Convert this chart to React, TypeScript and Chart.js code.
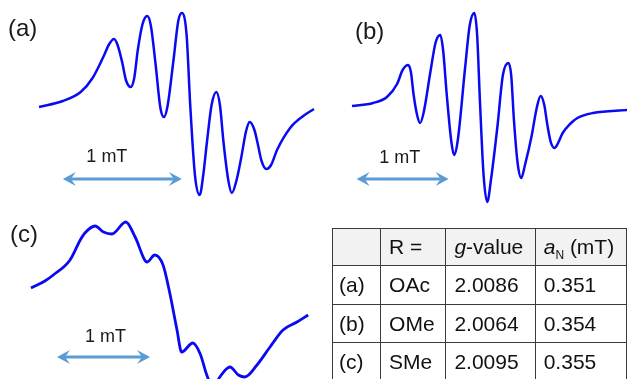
import { useEffect, useRef } from 'react';
import { Chart, registerables } from 'chart.js';

Chart.register(...registerables);

// ---- Spectrum (a), R = OAc : field offset (mT) and derivative signal (a.u.)
const FIELD_A = [0.0, 0.2, 0.35, 0.45, 0.54, 0.59, 0.63, 0.66, 0.7, 0.73, 0.77, 0.8, 0.83, 0.87, 0.91, 0.94, 0.98, 1.02, 1.05, 1.08, 1.13, 1.17, 1.2, 1.24, 1.27, 1.31, 1.35, 1.38, 1.41, 1.45, 1.49, 1.52, 1.55, 1.59, 1.62, 1.66, 1.7, 1.74, 1.77, 1.81, 1.84, 1.87, 1.91, 1.95, 2.0, 2.11, 2.22, 2.31];
const SIGNAL_A = [0, 6, 15, 29, 50, 63, 68, 62, 44, 27, 20, 29, 57, 83, 91, 81, 42, -1, -10, 1, 47, 86, 94, 72, 3, -68, -88, -68, -36, 2, 15, 2, -35, -73, -86, -73, -50, -24, -15, -23, -38, -54, -62, -58, -43, -21, -9, -2];

// ---- Spectrum (b), R = OMe
const FIELD_B = [0.0, 0.23, 0.38, 0.49, 0.55, 0.61, 0.64, 0.67, 0.71, 0.74, 0.78, 0.85, 0.91, 0.96, 0.99, 1.03, 1.08, 1.11, 1.15, 1.23, 1.28, 1.33, 1.36, 1.39, 1.43, 1.47, 1.51, 1.58, 1.64, 1.7, 1.73, 1.76, 1.8, 1.84, 1.88, 1.95, 2.01, 2.05, 2.09, 2.12, 2.16, 2.2, 2.24, 2.29, 2.37, 2.45, 2.62, 2.99];
const SIGNAL_B = [0, 3, 9, 22, 36, 41, 34, 11, -10, -17, -6, 33, 64, 71, 56, 11, -36, -49, -34, 39, 81, 93, 71, 6, -69, -96, -74, -21, 31, 43, 31, -14, -57, -72, -59, -31, -1, 10, 1, -17, -36, -42, -37, -27, -18, -12, -7, -4];

// ---- Spectrum (c), R = SMe
const FIELD_C = [0.0, 0.15, 0.24, 0.42, 0.53, 0.58, 0.69, 0.78, 0.87, 1.02, 1.12, 1.25, 1.33, 1.42, 1.49, 1.57, 1.62, 1.74, 1.82, 1.89, 1.96, 2.03, 2.14, 2.23, 2.3, 2.43, 2.57, 2.71, 2.86, 2.98];
const SIGNAL_C = [0, 7, 13, 28, 48, 55, 62, 56, 54, 66, 51, 26, 33, 23, -4, -42, -64, -55, -66, -87, -100, -89, -79, -87, -89, -77, -59, -42, -34, -27];

// ---- Scale bars (mT)
const SCALE_BAR_LENGTH = [1, 1, 1];
const SCALE_BAR_START = [0.2, 0.05, 0.28];
const PANEL_LABELS = ['(a)', '(b)', '(c)'];

// ---- Table
const TABLE_HEAD = ['', 'R =', 'g-value', 'aN (mT)'];
const ROW_LABELS = ['(a)', '(b)', '(c)'];
const R_GROUPS = ['OAc', 'OMe', 'SMe'];
const G_VALUES = ['2.0086', '2.0064', '2.0095'];
const A_N = ['0.351', '0.354', '0.355'];

const FONT = '"Liberation Sans", Arial, Helvetica, sans-serif';
const LINE_BLUE = '#0a0af2';
const ARROW_BLUE = '#5b9bd5';

type PanelCfg = {
  idx: number;
  field: number[];
  signal: number[];
  left: number;
  top: number;
  width: number;
  height: number;
  xMin: number;
  xMax: number;
  yMin: number;
  yMax: number;
  barLevel: number;
  textX: number;
  textDy: number;
  labelX: number;
  labelY: number;
  lineWidth: number;
};

const PANELS: PanelCfg[] = [
  { idx: 0, field: FIELD_A, signal: SIGNAL_A, left: 0, top: 0, width: 320, height: 200, xMin: -0.328, xMax: 2.361, yMin: -93, yMax: 107, barLevel: -72, textX: 0.57, textDy: -22, labelX: 8, labelY: 29, lineWidth: 2.5 },
  { idx: 1, field: FIELD_B, signal: SIGNAL_B, left: 320, top: 0, width: 307, height: 210, xMin: -0.348, xMax: 2.989, yMin: -104, yMax: 106, barLevel: -73, textX: 0.52, textDy: -21, labelX: 35, labelY: 32, lineWidth: 2.5 },
  { idx: 2, field: FIELD_C, signal: SIGNAL_C, left: 0, top: 200, width: 330, height: 179, xMin: -0.333, xMax: 3.215, yMin: -91, yMax: 88, barLevel: -69, textX: 0.8, textDy: -20, labelX: 10, labelY: 35, lineWidth: 2.8 },
];

function drawHead(ctx: CanvasRenderingContext2D, tipX: number, y: number, dir: number) {
  const len = 13;
  const half = 7;
  const notch = 8;
  ctx.beginPath();
  ctx.moveTo(tipX, y);
  ctx.lineTo(tipX - dir * len, y - half);
  ctx.lineTo(tipX - dir * notch, y);
  ctx.lineTo(tipX - dir * len, y + half);
  ctx.closePath();
  ctx.fill();
}

function Spectrum({ cfg }: { cfg: PanelCfg }) {
  const ref = useRef<HTMLCanvasElement | null>(null);
  useEffect(() => {
    if (!ref.current) return;
    const points = cfg.field.map((f, i) => ({ x: f, y: cfg.signal[i] }));
    const overlay = {
      id: 'overlay' + cfg.idx,
      afterDatasetsDraw(chart: any) {
        const ctx: CanvasRenderingContext2D = chart.ctx;
        const xs = chart.scales.x;
        const ys = chart.scales.y;
        const start = SCALE_BAR_START[cfg.idx];
        const x1 = xs.getPixelForValue(start);
        const x2 = xs.getPixelForValue(start + SCALE_BAR_LENGTH[cfg.idx]);
        const y = ys.getPixelForValue(cfg.barLevel);
        ctx.save();
        ctx.strokeStyle = ARROW_BLUE;
        ctx.fillStyle = ARROW_BLUE;
        ctx.lineWidth = 3;
        ctx.beginPath();
        ctx.moveTo(x1 + 8, y);
        ctx.lineTo(x2 - 8, y);
        ctx.stroke();
        drawHead(ctx, x1, y, -1);
        drawHead(ctx, x2, y, 1);
        ctx.fillStyle = '#1a1a1a';
        ctx.font = '18px ' + FONT;
        ctx.textAlign = 'center';
        ctx.textBaseline = 'middle';
        ctx.fillText(SCALE_BAR_LENGTH[cfg.idx] + ' mT', xs.getPixelForValue(cfg.textX), y + cfg.textDy);
        ctx.font = '24px ' + FONT;
        ctx.textAlign = 'left';
        ctx.fillText(PANEL_LABELS[cfg.idx], cfg.labelX, cfg.labelY);
        ctx.restore();
      },
    };
    const chart = new Chart(ref.current, {
      type: 'line',
      data: {
        datasets: [
          {
            data: points,
            borderColor: LINE_BLUE,
            borderWidth: cfg.lineWidth,
            pointRadius: 0,
            fill: false,
            cubicInterpolationMode: 'monotone',
          } as any,
        ],
      },
      options: {
        responsive: false,
        animation: false,
        devicePixelRatio: 1,
        layout: { padding: 0 },
        plugins: { legend: { display: false }, tooltip: { enabled: false } },
        scales: {
          x: { type: 'linear', display: false, min: cfg.xMin, max: cfg.xMax },
          y: { type: 'linear', display: false, min: cfg.yMin, max: cfg.yMax },
        },
      },
      plugins: [overlay],
    });
    return () => chart.destroy();
  }, [cfg]);
  return (
    <canvas
      ref={ref}
      width={cfg.width}
      height={cfg.height}
      style={{ position: 'absolute', left: cfg.left, top: cfg.top, width: cfg.width, height: cfg.height }}
    />
  );
}

const COL_W = [49, 66, 90, 92];
const ROW_H = [37, 39, 38, 38];

function DataTable() {
  const border = '1.5px solid #3a3a3a';
  const cell = (w: number, h: number, bg?: string): React.CSSProperties => ({
    width: w,
    height: h,
    border,
    padding: '0 0 0 8px',
    boxSizing: 'border-box',
    background: bg || 'white',
    verticalAlign: 'middle',
    textAlign: 'left',
    whiteSpace: 'nowrap',
    overflow: 'hidden',
  });
  const head = (i: number) => {
    if (i === 2) return (<span><i>g</i>-value</span>);
    if (i === 3)
      return (
        <span>
          <i>a</i>
          <span style={{ fontSize: 12, position: 'relative', top: 5 }}>N</span> (mT)
        </span>
      );
    return TABLE_HEAD[i];
  };
  return (
    <table
      style={{
        position: 'absolute',
        left: 332,
        top: 228,
        borderCollapse: 'collapse',
        tableLayout: 'fixed',
        fontFamily: FONT,
        fontSize: 21,
        color: '#111',
      }}
    >
      <tbody>
        <tr>
          {TABLE_HEAD.map((_, i) => (
            <td key={i} style={cell(COL_W[i], ROW_H[0], '#f2f2f2')}>{head(i)}</td>
          ))}
        </tr>
        {ROW_LABELS.map((lab, r) => (
          <tr key={r}>
            <td style={{ ...cell(COL_W[0], ROW_H[r + 1]), paddingLeft: 6 }}>{lab}</td>
            <td style={cell(COL_W[1], ROW_H[r + 1])}>{R_GROUPS[r]}</td>
            <td style={cell(COL_W[2], ROW_H[r + 1])}>{G_VALUES[r]}</td>
            <td style={cell(COL_W[3], ROW_H[r + 1])}>{A_N[r]}</td>
          </tr>
        ))}
      </tbody>
    </table>
  );
}

export default function App() {
  return (
    <div
      style={{
        position: 'fixed',
        left: 0,
        top: 0,
        width: 627,
        height: 379,
        overflow: 'hidden',
        background: 'white',
      }}
    >
      {PANELS.map((p) => (
        <Spectrum key={p.idx} cfg={p} />
      ))}
      <DataTable />
    </div>
  );
}
